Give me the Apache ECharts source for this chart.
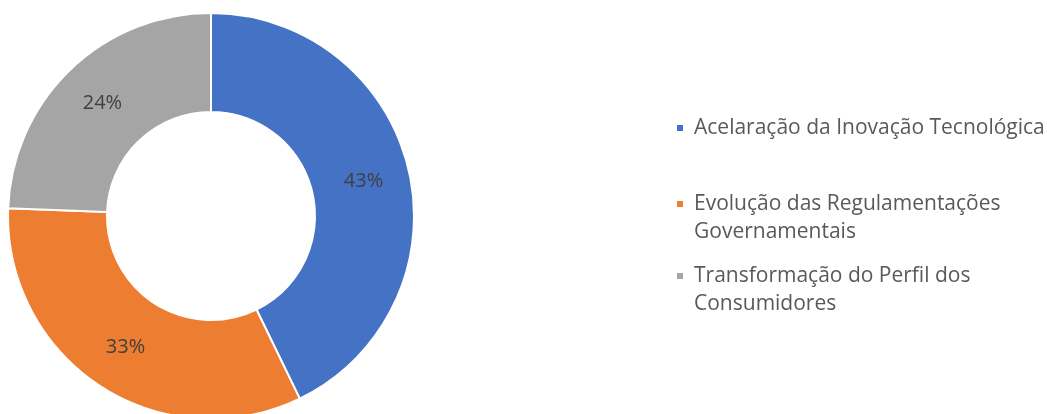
<!DOCTYPE html>
<html><head><meta charset="utf-8">
<script src="https://cdn.jsdelivr.net/npm/echarts@6/dist/echarts.min.js"></script>
<style>html,body{margin:0;padding:0;background:#fff}#c{width:1047px;height:414px}</style>
</head><body><div id="c"></div>
<script>
const categories = ['Acelaração da Inovação Tecnológica', 'Evolução das Regulamentações\nGovernamentais', 'Transformação do Perfil dos\nConsumidores'];
const values = [42.8, 32.8, 24.4];
const colors = ['#4472C4', '#ED7D31', '#A5A5A5'];
const legendTops = [128, 204, 276];

const FONT = 'Open Sans';
const chart = echarts.init(document.getElementById('c'));
const names = categories.map(c => c.replace('\n', ' '));
const legends = names.map((n, i) => {
  const multi = categories[i].indexOf('\n') >= 0;
  return {
    orient: 'vertical', left: 675, top: multi ? legendTops[i] - 42 : legendTops[i] - 14,
    padding: 0, itemWidth: 8, itemHeight: 8, icon: 'rect',
    data: [n], selectedMode: false,
    formatter: () => multi ? '\n' + categories[i] : categories[i],
    textStyle: { fontFamily: FONT, fontSize: 21, color: '#595959', lineHeight: 28, padding: [0, 0, 0, 5] }
  };
});
chart.setOption({
  animation: false,
  color: colors,
  legend: legends,
  series: [{
    type: 'pie', center: [211, 216], radius: [104, 203], startAngle: 90, clockwise: true,
    itemStyle: { borderColor: '#fff', borderWidth: 2 },
    label: { position: 'inside', fontFamily: FONT, fontSize: 20, color: '#404040',
      formatter: p => Math.round(p.percent) + '%' },
    labelLine: { show: false },
    emphasis: { disabled: true },
    data: names.map((n, i) => ({ name: n, value: values[i] }))
  }]
});
</script></body></html>
